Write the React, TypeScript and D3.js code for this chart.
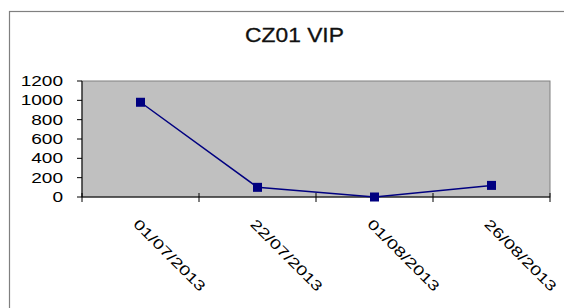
import React from "react";
import * as d3 from "d3";

// chart data
const dates = ["01/07/2013", "22/07/2013", "01/08/2013", "26/08/2013"];
const vipValues = [980, 100, 0, 120];
const yTicks = [0, 200, 400, 600, 800, 1000, 1200];
const chartTitle = "CZ01 VIP";

const W = 564;
const H = 308;
const plot = { left: 82, right: 550, top: 81, bottom: 197 };
const font = "'Liberation Sans', Arial, sans-serif";
const stretch = 1.36;

export default function App() {
  const x = d3
    .scaleBand<string>()
    .domain(dates)
    .range([plot.left, plot.right])
    .padding(0);

  const y = d3.scaleLinear().domain([0, 1200]).range([plot.bottom, plot.top]);

  const line = d3
    .line<number>()
    .x((d, i) => (x(dates[i]) as number) + x.bandwidth() / 2)
    .y(d => y(d));

  const boundaries = dates.map(d => x(d) as number).concat([plot.right]);

  return (
    <svg
      width={W}
      height={H}
      style={{ position: "absolute", left: 0, top: 0, display: "block", background: "#fff" }}
    >
      {/* outer chart frame */}
      <rect x={9.5} y={11.5} width={W + 10} height={H + 10} fill="#fff" stroke="#808080" strokeWidth={1.2} />

      <text
        transform={`translate(294.5, 42) scale(1.14, 1)`}
        textAnchor="middle"
        fontFamily={font}
        fontSize={20}
        fill="#111"
        stroke="#111"
        strokeWidth={0.3}
      >
        {chartTitle}
      </text>

      {/* plot area */}
      <rect
        x={plot.left}
        y={plot.top}
        width={plot.right - plot.left}
        height={plot.bottom - plot.top}
        fill="#c0c0c0"
        stroke="#808080"
        strokeWidth={1}
      />

      {/* y axis */}
      <line x1={plot.left} x2={plot.left} y1={plot.top} y2={plot.bottom} stroke="#000" />
      {yTicks.map(t => (
        <g key={t}>
          <line x1={plot.left - 5} x2={plot.left} y1={y(t)} y2={y(t)} stroke="#000" />
          <text
            transform={`translate(63, ${y(t) + 5}) scale(${stretch}, 1)`}
            textAnchor="end"
            fontFamily={font}
            fontSize={14}
            fill="#000"
          >
            {t}
          </text>
        </g>
      ))}

      {/* x axis */}
      <line x1={plot.left} x2={plot.right} y1={plot.bottom} y2={plot.bottom} stroke="#000" />
      {boundaries.map((b, i) => (
        <line key={i} x1={b} x2={b} y1={plot.bottom - 4} y2={plot.bottom + 5} stroke="#000" />
      ))}
      {dates.map(d => {
        const cx = (x(d) as number) + x.bandwidth() / 2;
        return (
          <text
            key={d}
            transform={`translate(${cx - 8}, 225) rotate(45) scale(${stretch}, 1)`}
            textAnchor="start"
            fontFamily={font}
            fontSize={14}
            fill="#000"
          >
            {d}
          </text>
        );
      })}

      {/* series */}
      <path d={line(vipValues) || ""} fill="none" stroke="#000080" strokeWidth={1.5} />
      {vipValues.map((v, i) => {
        const cx = (x(dates[i]) as number) + x.bandwidth() / 2;
        return <rect key={i} x={cx - 4.5} y={y(v) - 4.5} width={9} height={9} fill="#000080" />;
      })}
    </svg>
  );
}
